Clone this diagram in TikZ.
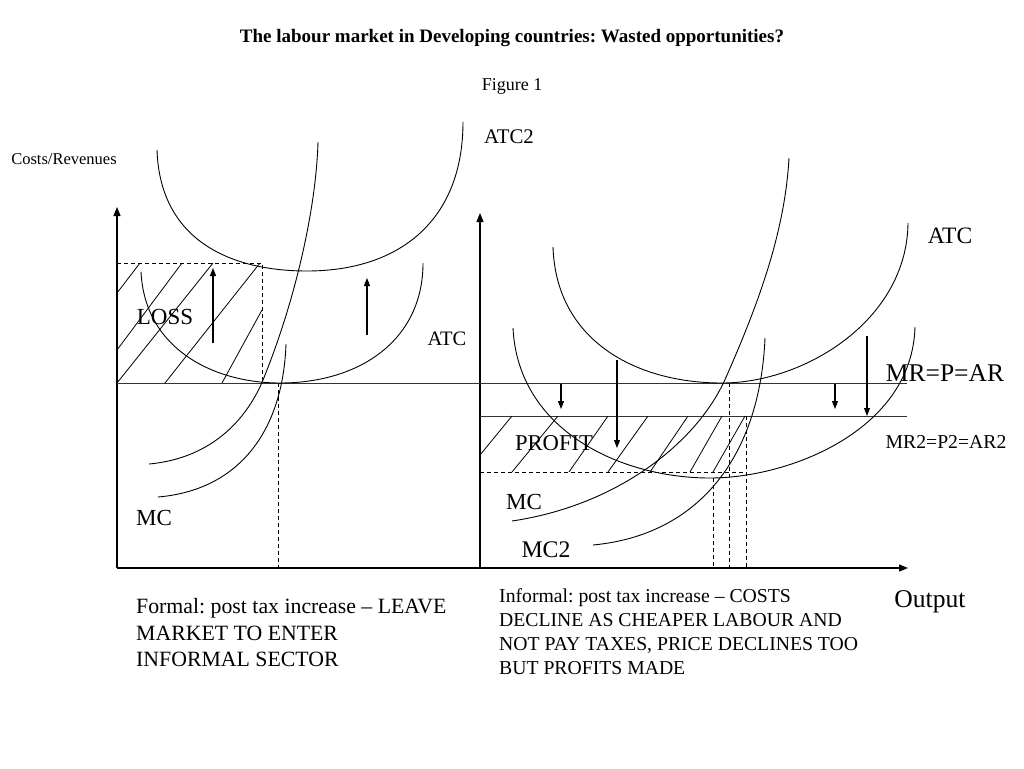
\documentclass[tikz,border=0pt]{standalone}
\usepackage{fontspec}
\setmainfont{Liberation Serif}
\usetikzlibrary{arrows.meta}
\frenchspacing
\begin{document}
\begin{tikzpicture}[x=1pt,y=-1pt,
  curve/.style={line width=0.9pt},
  axis/.style={line width=1.3pt,-{Triangle[length=9pt,width=7pt]}},
  level/.style={line width=1pt,black!80},
  guide/.style={line width=0.9pt,dash pattern=on 4pt off 3pt},
  hatch/.style={line width=0.8pt},
  shiftarrow/.style={line width=1.1pt,-{Triangle[length=8pt,width=6pt]}},
  lbl/.style={inner sep=0pt,anchor=center},
  fs/.style={font=\fontsize{#1}{#1}\selectfont}
]
\useasboundingbox (0,0) rectangle (1024,768);
\fill[white] (0,0) rectangle (1024,768);

% axes
\coordinate (O1) at (117,568);
\coordinate (Y1) at (117,207);
\coordinate (O2) at (480,568);
\coordinate (Y2) at (480,213);
\coordinate (X) at (908,568);
\draw[axis] (O1) -- (Y1);
\draw[axis] (O2) -- (Y2);
\draw[axis] (O1) -- (X);

% price lines
\coordinate (MRa) at (117,383);
\coordinate (MRb) at (907,383);
\coordinate (MRc) at (480,416);
\coordinate (MRd) at (907,416);
\draw[level] (MRa) -- (MRb);
\draw[level] (MRc) -- (MRd);

% ---------- left panel ----------
% ATC2 (upper)
\draw[curve] (157,150) .. controls (160,240) and (230,271) .. (307,271)
             .. controls (400,271) and (463,220) .. (463,122);
% ATC (lower)
\draw[curve] (141,272) .. controls (145,350) and (215,383) .. (280,383)
             .. controls (360,383) and (423,340) .. (423,263);
% MC curves
\draw[curve] (149,464) .. controls (215,458) and (250,415) .. (265,375)
             .. controls (295,300) and (316,210) .. (318,142);
\draw[curve] (158,497) .. controls (240,490) and (283,430) .. (286,344);
% dashed guides
\draw[guide] (117,263) -- (262,263) -- (262,383);
\draw[guide] (278,383) -- (278,568);
% loss hatching
\draw[hatch] (117,293) -- (140,263);
\draw[hatch] (117,350) -- (182,263);
\draw[hatch] (117,383) -- (213,263);
\draw[hatch] (165,383) -- (260,263);
\draw[hatch] (222,383) -- (262,310);
% upward shift arrows
\coordinate (la1) at (213,343); \coordinate (la1t) at (213,268);
\coordinate (la2) at (367,335); \coordinate (la2t) at (367,278);
\draw[shiftarrow] (la1) -- (la1t);
\draw[shiftarrow] (la2) -- (la2t);

% ---------- right panel ----------
% ATC (upper)
\draw[curve] (553,247) .. controls (556,340) and (635,383) .. (722,383)
             .. controls (805,383) and (907,320) .. (908,223);
% ATC (lower, after cost decline)
\draw[curve] (513,328) .. controls (518,430) and (620,478) .. (710,478)
             .. controls (790,478) and (912,430) .. (915,327);
% MC
\draw[curve] (512,521) .. controls (620,505) and (700,440) .. (727,375)
             .. controls (760,300) and (785,230) .. (789,158);
% MC2
\draw[curve] (593,545) .. controls (700,535) and (760,455) .. (765,338);
% dashed guides
\draw[guide] (480,472) -- (746,472);
\draw[guide] (713,478) -- (713,568);
\draw[guide] (729,383) -- (729,568);
\draw[guide] (746,416) -- (746,568);
% profit hatching
\draw[hatch] (480,455) -- (512,416);
\draw[hatch] (512,472) -- (558,416);
\draw[hatch] (569,472) -- (608,416);
\draw[hatch] (608,472) -- (648,416);
\draw[hatch] (650,472) -- (688,416);
\draw[hatch] (690,472) -- (722,416);
\draw[hatch] (713,472) -- (745,416);
% downward shift arrows
\coordinate (ra1) at (561,384); \coordinate (ra1t) at (561,409);
\coordinate (ra2) at (617,360); \coordinate (ra2t) at (617,448);
\coordinate (ra3) at (835,384); \coordinate (ra3t) at (835,409);
\coordinate (ra4) at (867,336); \coordinate (ra4t) at (867,416);
\draw[shiftarrow] (ra1) -- (ra1t);
\draw[shiftarrow] (ra2) -- (ra2t);
\draw[shiftarrow] (ra3) -- (ra3t);
\draw[shiftarrow] (ra4) -- (ra4t);

% ---------- labels ----------
\node[lbl,font=\fontsize{19}{23}\selectfont\bfseries] (title) at (512,38)
  {The labour market in Developing countries: Wasted opportunities?};
\node[lbl,fs=18] (fig) at (512,86) {Figure 1};
\node[lbl,fs=16.5] (costs) at (64,159) {Costs/Revenues};
\node[lbl,fs=20.8] (atc2) at (509,137) {ATC2};
\node[lbl,fs=23] (loss) at (165,317) {LOSS};
\node[lbl,fs=20.5] (atcl) at (447,339) {ATC};
\node[lbl,fs=23] (mcl) at (154,518) {MC};
\node[lbl,fs=23.5] (atcr) at (950,236) {ATC};
\node[lbl,fs=25.5] (mr) at (945,373) {MR=P=AR};
\node[lbl,fs=19.7] (mr2) at (946,442) {MR2=P2=AR2};
\node[lbl,fs=22.6] (profit) at (554,443) {PROFIT};
\node[lbl,fs=23] (mcr) at (524,502) {MC};
\node[lbl,fs=23.8] (mc2) at (546,550) {MC2};
\node[lbl,fs=25.6] (output) at (930,602) {Output};
\node[inner sep=0pt,anchor=west,align=left,font=\fontsize{21.8}{26.5}\selectfont] (formal) at (136,633)
  {Formal: post tax increase – LEAVE\\MARKET TO ENTER\\INFORMAL SECTOR};
\node[inner sep=0pt,anchor=west,align=left,font=\fontsize{19.7}{24}\selectfont] (informal) at (499,632)
  {Informal: post tax increase – COSTS\\DECLINE AS CHEAPER LABOUR AND\\NOT PAY TAXES, PRICE DECLINES TOO\\BUT PROFITS MADE};
\end{tikzpicture}
\end{document}
